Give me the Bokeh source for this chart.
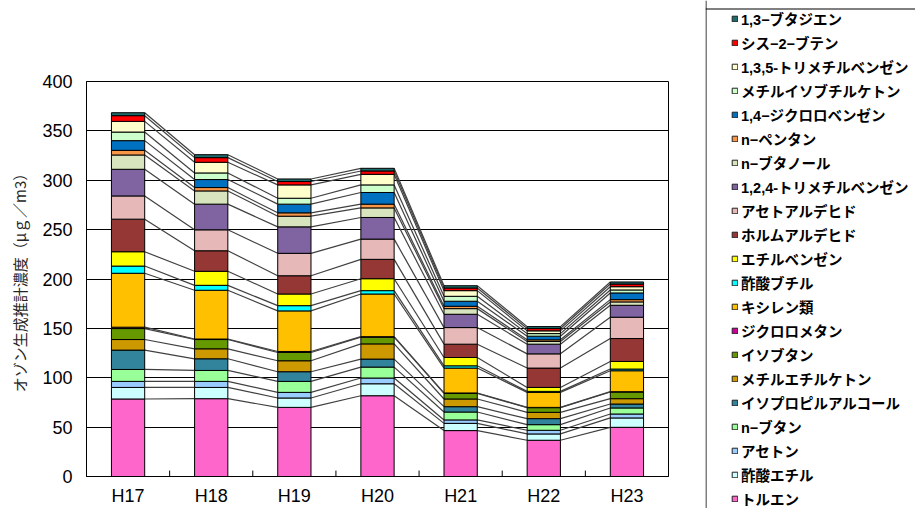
from bokeh.plotting import figure
from bokeh.layouts import row
from bokeh.models import (ColumnDataSource, FactorRange, Range1d, Legend, LegendItem,
                          FixedTicker, Span)
from bokeh.transform import dodge
from bokeh.embed import file_html
from bokeh.resources import INLINE

categories = ["H17", "H18", "H19", "H20", "H21", "H22", "H23"]
y_ticks = [0, 50, 100, 150, 200, 250, 300, 350, 400]

# stack order: bottom -> top
toluene         = [78.5, 78.8, 70.0, 81.8, 46.5, 36.7, 49.8]
ethyl_acetate   = [11.7, 11.4, 9.5, 12.1, 7.3, 6.4, 9.5]
acetone         = [6.1, 6.1, 5.7, 5.8, 3.5, 3.7, 4.0]
n_butane        = [12.1, 11.1, 11.1, 11.1, 8.0, 5.7, 6.1]
isopropanol     = [19.6, 11.8, 9.8, 8.1, 5.4, 6.1, 4.0]
mek             = [10.7, 10.1, 11.1, 15.4, 7.8, 6.4, 5.4]
isobutane       = [11.1, 9.4, 8.4, 6.8, 5.6, 4.7, 6.8]
dichloromethane = [1.4, 0.5, 1.0, 0.5, 0.5, 0.3, 0.3]
xylenes         = [54.6, 49.4, 41.1, 43.2, 25.2, 15.2, 21.2]
butyl_acetate   = [7.3, 5.0, 5.3, 3.4, 2.3, 1.0, 1.7]
ethylbenzene    = [14.5, 14.2, 11.8, 12.1, 8.4, 4.0, 7.7]
formaldehyde    = [33.0, 20.8, 18.5, 19.6, 13.5, 19.6, 23.2]
acetaldehyde    = [23.5, 21.2, 22.7, 20.5, 16.8, 14.4, 21.6]
tmb124          = [27.0, 26.0, 26.8, 21.9, 13.5, 9.8, 12.1]
n_butanol       = [14.5, 13.4, 10.8, 9.7, 5.7, 2.7, 3.4]
n_pentane       = [4.7, 3.4, 3.4, 3.8, 2.4, 1.7, 2.3]
dcb14           = [9.8, 8.1, 8.8, 11.8, 5.1, 3.7, 6.8]
mibk            = [8.7, 6.7, 6.0, 7.7, 5.0, 2.6, 3.0]
tmb135          = [10.8, 10.8, 13.5, 10.7, 5.7, 2.8, 3.3]
cis2butene      = [5.8, 4.7, 3.4, 3.4, 2.7, 2.3, 2.7]
butadiene       = [3.0, 3.0, 2.6, 2.7, 2.3, 2.0, 2.1]

series_names = ["トルエン", "酢酸エチル", "アセトン", "n−ブタン", "イソプロピルアルコール",
                "メチルエチルケトン", "イソブタン", "ジクロロメタン", "キシレン類", "酢酸ブチル",
                "エチルベンゼン", "ホルムアルデヒド", "アセトアルデヒド", "1,2,4-トリメチルベンゼン",
                "n−ブタノール", "n−ペンタン", "1,4−ジクロロベンゼン", "メチルイソブチルケトン",
                "1,3,5-トリメチルベンゼン", "シス−2−ブテン", "1,3−ブタジエン"]
series_values = [toluene, ethyl_acetate, acetone, n_butane, isopropanol, mek, isobutane,
                 dichloromethane, xylenes, butyl_acetate, ethylbenzene, formaldehyde,
                 acetaldehyde, tmb124, n_butanol, n_pentane, dcb14, mibk, tmb135,
                 cis2butene, butadiene]
series_colors = ["#FF66CC", "#CCFFFF", "#99CCFF", "#99FF99", "#31849B", "#CC9900", "#669900",
                 "#CC0099", "#FFC000", "#00FFFF", "#FFFF00", "#953735", "#E6B9B8", "#8064A2",
                 "#D7E4BD", "#F79646", "#0070C0", "#CCFFCC", "#FFFFCC", "#FF0000", "#1E6B6B"]

keys = ["s%d" % i for i in range(len(series_names))]
data = {"cat": categories}
for k, v in zip(keys, series_values):
    data[k] = v
source = ColumnDataSource(data)

p = figure(x_range=FactorRange(*categories), y_range=Range1d(0, 400),
           width=705, height=508, output_backend="svg", toolbar_location=None,
           min_border_left=86, min_border_right=37, min_border_top=81, min_border_bottom=31)
p.x_range.range_padding = 0
p.frame_align = False

# series lines (connect tops of each series between neighbouring bars)
sx0, sx1, sy0, sy1 = [], [], [], []
cum = [0.0] * len(categories)
for vals in series_values:
    cum = [c + v for c, v in zip(cum, vals)]
    for i in range(len(categories) - 1):
        sx0.append(categories[i]); sx1.append(categories[i + 1])
        sy0.append(cum[i]); sy1.append(cum[i + 1])
lines = ColumnDataSource(dict(x0=sx0, x1=sx1, y0=sy0, y1=sy1))
p.segment(x0=dodge("x0", 0.2, range=p.x_range), x1=dodge("x1", -0.2, range=p.x_range),
          y0="y0", y1="y1", source=lines, line_color="#404040", line_width=1.2)

renderers = p.vbar_stack(keys, x="cat", width=0.4, source=source, color=series_colors,
                         line_color="black", line_width=1)

# category boundary ticks (inward)
tick_src = ColumnDataSource(dict(x=categories[1:], y0=[0] * 6, y1=[6] * 6))
p.segment(x0=dodge("x", -0.5, range=p.x_range), x1=dodge("x", -0.5, range=p.x_range),
          y0="y0", y1="y1", source=tick_src, line_color="black", line_width=1)

p.outline_line_color = "black"
p.xgrid.grid_line_color = None
p.ygrid.grid_line_color = "black"
p.ygrid.grid_line_width = 1
p.yaxis.ticker = FixedTicker(ticks=y_ticks)
p.yaxis.major_tick_in = 0
p.yaxis.major_tick_out = 0
p.yaxis.minor_tick_line_color = None
p.yaxis.axis_line_color = "black"
p.yaxis.major_label_text_font = "Liberation Sans"
p.yaxis.major_label_text_font_size = "18px"
p.yaxis.major_label_text_color = "black"
p.yaxis.major_label_standoff = 14
p.yaxis.axis_label = "オゾン生成推計濃度（μｇ／m3）"
p.yaxis.axis_label_text_font = "Noto Sans CJK JP"
p.yaxis.axis_label_text_font_size = "15px"
p.yaxis.axis_label_text_font_style = "normal"
p.yaxis.axis_label_text_color = "#262626"
p.yaxis.axis_label_standoff = 9

p.xaxis.major_tick_line_color = None
p.xaxis.major_tick_out = 0
p.xaxis.major_tick_in = 0
p.xaxis.axis_line_color = "black"
p.xaxis.major_label_text_font = "Liberation Sans"
p.xaxis.major_label_text_font_size = "18px"
p.xaxis.major_label_text_color = "black"
p.xaxis.major_label_standoff = 9

# legend panel (box is cut off by the window edge, as in the reference)
lg = figure(width=210, height=508, output_backend="svg", toolbar_location=None,
            x_range=Range1d(0, 210), y_range=Range1d(0, 508),
            min_border_left=0, min_border_right=0, min_border_top=0, min_border_bottom=0)
lg.frame_align = False
lg.axis.visible = False
lg.grid.grid_line_color = None
lg.outline_line_color = None
lg.add_layout(Span(location=0.5, dimension="height", line_color="black", line_width=1))
lg.add_layout(Span(location=499.5, dimension="width", line_color="black", line_width=1))

# off-frame proxy glyphs that only serve as legend swatches
dummy = []
for c in series_colors:
    dummy.append(lg.vbar(x=[-100], top=[-100], bottom=[-101], width=1,
                         fill_color=c, line_color="#202020", line_width=1))
items = [LegendItem(label=n, renderers=[r]) for n, r in zip(series_names, dummy)][::-1]
legend = Legend(items=items, location=(26, -1), padding=0, spacing=3,
                label_height=20, glyph_height=7, glyph_width=7, label_standoff=3,
                label_text_font="Liberation Sans, Noto Sans CJK JP", label_text_font_size="14.5px",
                label_text_font_style="bold", label_text_color="black",
                border_line_color=None, background_fill_alpha=0, margin=0)
lg.add_layout(legend, "center")

layout = row(p, lg)
open("out.html", "w").write(file_html(layout, INLINE))
